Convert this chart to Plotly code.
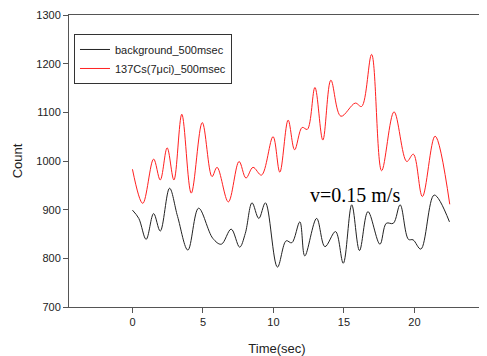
import plotly.graph_objects as go

# Background (black) series: time (s) and counts
bg_time = [0.0, 0.45, 0.97, 1.5, 1.97, 2.63, 3.2, 3.93, 4.69, 5.7, 6.3, 7.0, 7.6, 8.0,
           8.48, 8.96, 9.43, 10.28, 10.9, 11.3, 11.87, 12.22, 13.06, 13.65, 14.4, 14.95,
           15.55, 16.1, 16.7, 17.55, 18.0, 18.5, 18.98, 19.57, 19.9, 20.45, 21.4, 22.48]
bg_count = [899, 882, 839, 892, 856, 944, 886, 817, 903, 841, 829, 860, 823, 851,
            914, 882, 914, 782, 836, 832, 875, 805, 882, 824, 855, 790,
            910, 816, 896, 829, 872, 872, 910, 839, 838, 819, 930, 875]

# 137Cs (red) series
cs_time = [0.0, 0.73, 1.5, 1.97, 2.46, 2.94, 3.5, 4.17, 4.95, 5.64, 6.0, 6.8, 7.56, 8.05,
           8.55, 9.15, 9.97, 10.45, 11.04, 11.5, 12.03, 12.4, 12.94, 13.5, 14.07, 14.78,
           15.8, 16.25, 16.96, 17.67, 18.55, 19.45, 19.92, 20.56, 21.46, 22.5]
cs_count = [983, 913, 1004, 961, 1027, 961, 1096, 934, 1079, 968, 987, 916, 999, 965,
            987, 971, 1050, 977, 1084, 1023, 1069, 1065, 1151, 1043, 1166, 1092,
            1119, 1112, 1219, 980, 1101, 999, 1014, 927, 1051, 911]

x_ticks = [0, 5, 10, 15, 20, 25]
y_ticks = [700, 800, 900, 1000, 1100, 1200, 1300]

fig = go.Figure()
fig.add_trace(go.Scatter(x=bg_time, y=bg_count, mode="lines", name="background_500msec",
                         line=dict(color="#222222", width=1, shape="spline", smoothing=1.0)))
fig.add_trace(go.Scatter(x=cs_time, y=cs_count, mode="lines", name="137Cs(7\u03bcci)_500msec",
                         line=dict(color="#ff2020", width=1, shape="spline", smoothing=1.0)))

fig.add_annotation(x=15.8, y=930, text="v=0.15 m/s", showarrow=False,
                   font=dict(family="Liberation Serif", size=20, color="black"))

axis_common = dict(showgrid=False, zeroline=False, showline=True, linecolor="#555555",
                   linewidth=1, mirror=True, ticks="outside", ticklen=5, tickcolor="#555555",
                   automargin=False,
                   tickfont=dict(family="Liberation Sans", size=11, color="#222222"))

fig.update_layout(
    width=487, height=356,
    margin=dict(l=61, r=10, t=7, b=57),
    paper_bgcolor="white", plot_bgcolor="white",
    font=dict(family="Liberation Sans", size=11, color="#222222"),
    xaxis=dict(range=[-4.5, 25], tickvals=x_ticks,
               title=dict(text="Time(sec)", font=dict(size=13), standoff=16), **axis_common),
    yaxis=dict(range=[700, 1300], tickvals=y_ticks,
               title=dict(text="Count", font=dict(size=13), standoff=10), **axis_common),
    legend=dict(x=0.012, y=0.935, xanchor="left", yanchor="top",
                bordercolor="#333333", borderwidth=1, bgcolor="white",
                font=dict(family="Liberation Sans", size=11, color="#222222"),
                tracegroupgap=0, itemwidth=30),
    showlegend=True,
)

fig.write_html("out.html")
